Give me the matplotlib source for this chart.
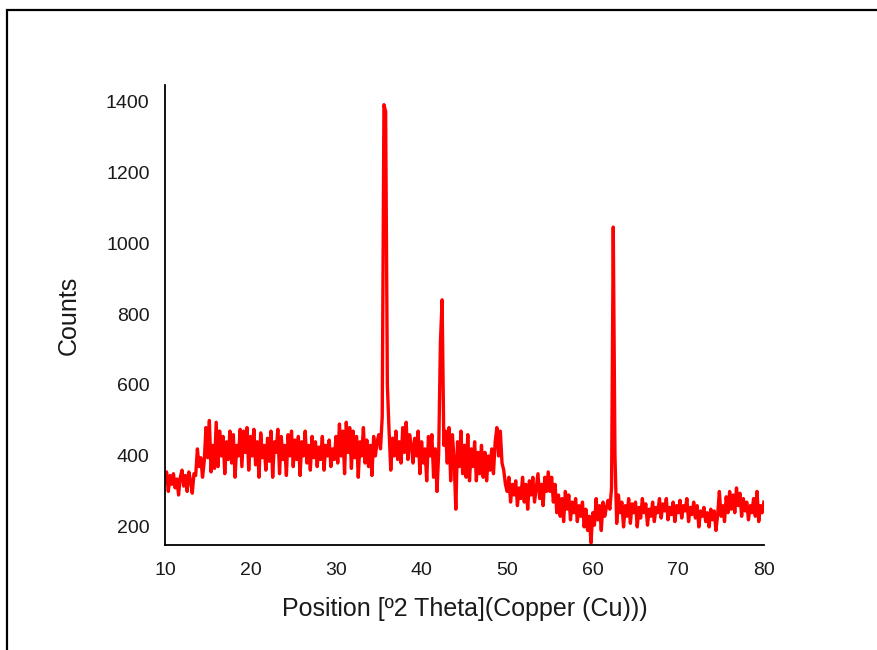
import matplotlib
matplotlib.use("Agg")
import matplotlib.pyplot as plt
import numpy as np
from matplotlib.patches import Rectangle

plt.rcParams['font.family'] = ['Liberation Sans', 'DejaVu Sans']

# scan positions, 0.2 deg steps from 10 to 80
two_theta = np.round(np.arange(10.0, 80.01, 0.2), 1)

# counts, one row per degree
counts = [
    330, 355, 300, 345, 320,
    350, 310, 335, 290, 340,
    360, 315, 345, 300, 355,
    330, 295, 350, 345, 420,
    370, 395, 340, 385, 480,
    395, 500, 355, 430, 365,
    495, 370, 470, 400, 455,
    350, 440, 390, 470, 380,
    460, 340, 430, 400, 475,
    370, 470, 410, 480, 360,
    455, 400, 475, 375, 440,
    340, 465, 395, 430, 360,
    450, 385, 470, 340, 440,
    410, 475, 350, 455, 390,
    430, 345, 460, 400, 470,
    370, 445, 390, 455, 345,
    440, 400, 470, 380, 430,
    360, 455, 395, 440, 370,
    425, 390, 455, 360, 430,
    400, 445, 370, 420, 390,
    455, 380, 490, 400, 470,
    350, 495, 410, 480, 365,
    470, 395, 455, 340, 440,
    400, 480, 380, 445, 370,
    430, 345, 455, 400, 440,
    460, 420, 510, 1390, 1370,
    600, 470, 360, 450, 400,
    470, 390, 440, 380, 480,
    410, 495, 390, 460, 430,
    380, 450, 400, 470, 350,
    440, 380, 420, 330, 455,
    400, 460, 340, 420, 300,
    410, 720, 840, 430, 470,
    380, 480, 330, 460, 390,
    250, 440, 370, 470, 350,
    430, 340, 460, 330, 420,
    370, 440, 330, 410, 350,
    430, 340, 410, 330, 400,
    360, 420, 350, 440, 480,
    400, 470, 380, 360, 320,
    300, 340, 270, 320, 290,
    330, 260, 310, 280, 340,
    270, 320, 250, 330, 290,
    340, 270, 310, 350, 280,
    320, 260, 340, 300, 355,
    300, 340, 270, 320, 240,
    290, 230, 280, 215, 300,
    250, 290, 220, 270, 240,
    280, 215, 260, 230, 270,
    200, 250, 190, 230, 155,
    240, 205, 280, 220, 260,
    190, 270, 230, 255, 275,
    250, 310, 1045, 400, 210,
    290, 240, 270, 200, 260,
    230, 280, 210, 265, 240,
    270, 200, 255, 225, 280,
    240, 265, 205, 250, 230,
    270, 215, 255, 240, 280,
    225, 265, 245, 280, 220,
    255, 235, 270, 215, 260,
    240, 275, 225, 260, 245,
    280, 215, 255, 235, 270,
    225, 260, 200, 245, 230,
    255, 215, 240, 200, 250,
    220, 245, 190, 235, 300,
    230, 260, 215, 285, 240,
    300, 250, 290, 240, 310,
    260, 295, 230, 280, 245,
    270, 220, 260, 240, 280,
    230, 300, 215, 260, 240,
    270,
]

x_ticks = [10, 20, 30, 40, 50, 60, 70, 80]
y_ticks = [200, 400, 600, 800, 1000, 1200, 1400]

fig = plt.figure(figsize=(8.77, 6.5), dpi=100)
ax = fig.add_axes([0.188, 0.1615, 0.683, 0.7075])

ax.plot(two_theta, counts, color='#ff0000', linewidth=2.4)

ax.set_xlim(10, 80)
ax.set_ylim(149, 1445)
ax.set_xticks(x_ticks)
ax.set_yticks(y_ticks)
ax.tick_params(axis='both', length=0, labelsize=14, colors='#1a1a1a')
ax.tick_params(axis='y', pad=11)
ax.tick_params(axis='x', pad=12)
for s in ['top', 'right']:
    ax.spines[s].set_visible(False)
for s in ['left', 'bottom']:
    ax.spines[s].set_linewidth(1.3)

ax.set_xlabel('Position [º2 Theta](Copper (Cu)))', fontsize=18, labelpad=13, color='#1a1a1a')
ax.set_ylabel('Counts', fontsize=18, labelpad=18, color='#1a1a1a')

# outer frame around the chart
fig.patches.append(Rectangle((7 / 877, -0.1), 1.2, 1 - 10 / 650 + 0.1,
                             transform=fig.transFigure, fill=False,
                             edgecolor='black', linewidth=1.6))

fig.savefig('out.png', dpi=100)
